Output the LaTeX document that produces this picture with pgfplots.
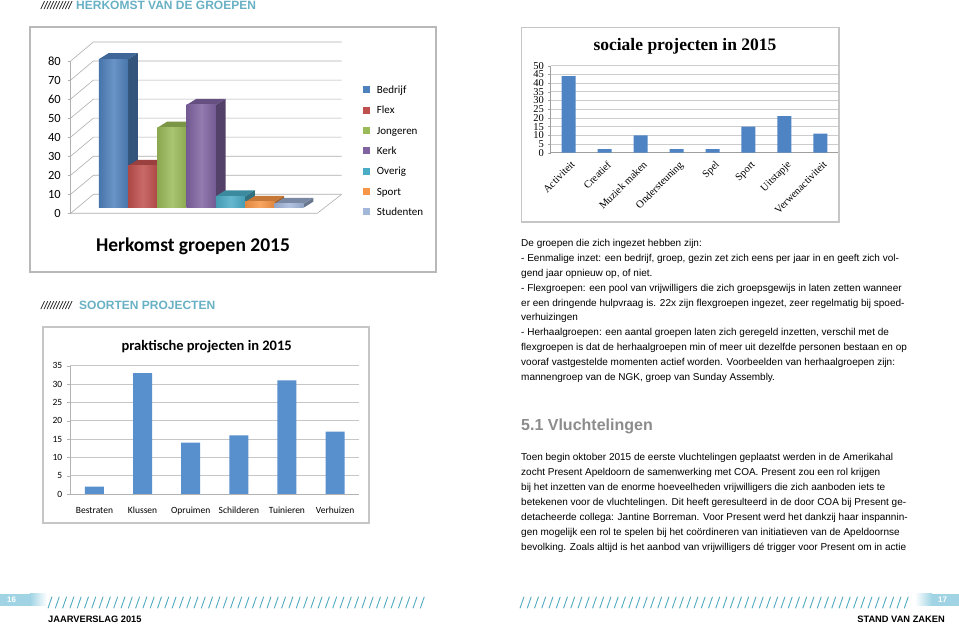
\documentclass[border=0pt]{standalone}
\usepackage{fontspec}
\setmainfont{Liberation Sans}
\newfontfamily\carlito{Carlito}
\newfontfamily\lserif{Liberation Serif}
\usepackage{pgfplots}
\pgfplotsset{compat=1.18}
\definecolor{teal1}{RGB}{104,177,196}
\definecolor{teal2}{RGB}{80,170,192}
\definecolor{boxblue}{RGB}{160,212,228}
\definecolor{headgray}{RGB}{140,140,140}
\definecolor{gridc}{RGB}{175,175,175}
\definecolor{c1}{RGB}{79,129,189}
\definecolor{c2}{RGB}{192,80,77}
\definecolor{c3}{RGB}{155,187,89}
\definecolor{c4}{RGB}{128,100,162}
\definecolor{c5}{RGB}{75,172,198}
\definecolor{c6}{RGB}{247,150,70}
\definecolor{c7}{RGB}{162,183,218}
\definecolor{barB}{RGB}{79,132,196}
\definecolor{barC}{RGB}{88,144,206}
\begin{document}
\begin{tikzpicture}[x=1pt,y=1pt]
\useasboundingbox (0,0) rectangle (959,626);
\fill[white] (0,0) rectangle (959,626);

% ---------- headings
\node[anchor=base west,inner sep=0,font=\itshape\fontsize{11}{11}\selectfont] at (41,616) {//////////};
\node[anchor=base west,inner sep=0,font=\bfseries\fontsize{12}{12}\selectfont,text=teal1] at (76,616) {HERKOMST VAN DE GROEPEN};
\node[anchor=base west,inner sep=0,font=\itshape\fontsize{11}{11}\selectfont] at (41,316) {//////////};
\node[anchor=base west,inner sep=0,font=\bfseries\fontsize{12}{12}\selectfont,text=teal1] at (79,316) {SOORTEN PROJECTEN};

% ---------- chart 1 frame and 3D walls
\draw[gray!55,line width=1.2pt,fill=white] (30,599) rectangle (436,354);
\foreach \v in {0,10,...,80} {
  \pgfmathsetmacro\yf{626-213.3+\v*1.904}
  \draw[gridc,line width=0.6pt] (70.7,\yf) -- (93.4,\yf+19) -- (341.7,\yf+19);
  \draw[gridc,line width=0.6pt] (67.5,\yf) -- (70.7,\yf);
  \node[anchor=east,inner sep=0,font=\carlito\fontsize{12.5}{12.5}\selectfont] at (61,\yf) {\v};
}
\draw[gridc,line width=0.6pt] (70.7,412.7) -- (70.7,565);
\draw[gridc,line width=0.6pt] (70.7,412.7) -- (317.3,412.7) -- (341.7,431.7);
\node[anchor=base,inner sep=0,font=\carlito\bfseries\fontsize{19.5}{19.5}\selectfont] at (193,374.3) {Herkomst groepen 2015};

\begin{axis}[at={(84.25pt,418.3pt)},anchor=south west,scale only axis,
  width=263.25pt,height=171.36pt,
  xmin=0,xmax=9,ymin=0,ymax=90,enlargelimits=false,hide axis,clip=false]
% Bedrijf 78
\addplot[fill=c1!65!black,draw=none] coordinates {(1.5,0) (1.83,3.15) (1.83,81.15) (1.5,78)} -- cycle;
\addplot[fill=c1!80!black,draw=none] coordinates {(0.5,78) (1.5,78) (1.83,81.15) (0.83,81.15)} -- cycle;
\addplot[ybar,bar width=1,bar shift=0pt,left color=c1!90!black,right color=c1!90!black,middle color=c1!85!white,draw=none] coordinates {(1,78)};
% Flex 22
\addplot[fill=c2!65!black,draw=none] coordinates {(2.5,0) (2.83,3.15) (2.83,25.15) (2.5,22)} -- cycle;
\addplot[fill=c2!80!black,draw=none] coordinates {(1.5,22) (2.5,22) (2.83,25.15) (1.83,25.15)} -- cycle;
\addplot[ybar,bar width=1,bar shift=0pt,left color=c2!90!black,right color=c2!90!black,middle color=c2!85!white,draw=none] coordinates {(2,22)};
% Jongeren 42
\addplot[fill=c3!65!black,draw=none] coordinates {(3.5,0) (3.83,3.15) (3.83,45.15) (3.5,42)} -- cycle;
\addplot[fill=c3!80!black,draw=none] coordinates {(2.5,42) (3.5,42) (3.83,45.15) (2.83,45.15)} -- cycle;
\addplot[ybar,bar width=1,bar shift=0pt,left color=c3!90!black,right color=c3!90!black,middle color=c3!85!white,draw=none] coordinates {(3,42)};
% Kerk 54
\addplot[fill=c4!65!black,draw=none] coordinates {(4.5,0) (4.83,3.15) (4.83,57.15) (4.5,54)} -- cycle;
\addplot[fill=c4!80!black,draw=none] coordinates {(3.5,54) (4.5,54) (4.83,57.15) (3.83,57.15)} -- cycle;
\addplot[ybar,bar width=1,bar shift=0pt,left color=c4!90!black,right color=c4!90!black,middle color=c4!85!white,draw=none] coordinates {(4,54)};
% Overig 6
\addplot[fill=c5!65!black,draw=none] coordinates {(5.5,0) (5.83,3.15) (5.83,9.15) (5.5,6)} -- cycle;
\addplot[fill=c5!80!black,draw=none] coordinates {(4.5,6) (5.5,6) (5.83,9.15) (4.83,9.15)} -- cycle;
\addplot[ybar,bar width=1,bar shift=0pt,left color=c5!90!black,right color=c5!90!black,middle color=c5!85!white,draw=none] coordinates {(5,6)};
% Sport 3
\addplot[fill=c6!65!black,draw=none] coordinates {(6.5,0) (6.83,3.15) (6.83,6.15) (6.5,3)} -- cycle;
\addplot[fill=c6!80!black,draw=none] coordinates {(5.5,3) (6.5,3) (6.83,6.15) (5.83,6.15)} -- cycle;
\addplot[ybar,bar width=1,bar shift=0pt,left color=c6!90!black,right color=c6!90!black,middle color=c6!85!white,draw=none] coordinates {(6,3)};
% Studenten 2
\addplot[fill=c7!65!black,draw=none] coordinates {(7.5,0) (7.83,3.15) (7.83,5.15) (7.5,2)} -- cycle;
\addplot[fill=c7!75!black,draw=none] coordinates {(6.5,2) (7.5,2) (7.83,5.15) (6.83,5.15)} -- cycle;
\addplot[ybar,bar width=1,bar shift=0pt,left color=c7!90!black,right color=c7!90!black,middle color=c7!85!white,draw=none] coordinates {(7,2)};
\end{axis}

% legend chart 1
\foreach \c/\t/\yy in {c1/Bedrijf/536,c2/Flex/515.7,c3/Jongeren/495.3,c4/Kerk/475,c5/Overig/454.7,c6/Sport/434.4,c7/Studenten/414} {
  \fill[\c] (363.3,\yy-3.5) rectangle (370.3,\yy+3.5);
  \node[anchor=base west,inner sep=0,font=\carlito\fontsize{11}{11}\selectfont] at (376.7,\yy-3.6) {\t};
}

% ---------- chart 2: sociale projecten
\draw[gray!45,line width=1.2pt,fill=white] (521.5,598.5) rectangle (839,404);
\node[anchor=base,inner sep=0,font=\lserif\bfseries\fontsize{17.5}{17.5}\selectfont] at (685,575) {sociale projecten in 2015};
\begin{axis}[at={(550.5pt,473.3pt)},anchor=south west,scale only axis,
  width=288pt,height=87pt,
  xmin=-0.5,xmax=7.5,ymin=0,ymax=50,enlargelimits=false,
  axis x line*=bottom,axis y line*=left,
  axis line style={gray!75,line width=0.6pt},
  ytick={0,5,...,50},ymajorgrids,major grid style={gray!40,line width=0.6pt},
  xtick={0,...,7},
  xticklabels={Activiteit,Creatief,Muziek maken,Ondersteuning,Spel,Sport,Uitstapje,Verwenactiviteit},
  x tick style={draw=none},y tick style={gray!75},
  tick align=outside,major tick length=2.5pt,
  extra x ticks={-0.5,0.5,...,7.5},extra x tick labels={},
  extra x tick style={grid=none,major tick length=2.5pt,tick style={gray!75,draw=gray!75}},
  /pgf/number format/assume math mode=true,
  yticklabel style={font=\lserif\fontsize{10.5}{10.5}\selectfont,inner sep=0pt,xshift=-4pt},
  xticklabel style={font=\lserif\fontsize{10.5}{10.5}\selectfont,inner sep=0pt,anchor=north east,xshift=2pt,yshift=-5pt,rotate=45},
  ybar,bar width=14pt]
\addplot[fill=barB,draw=none] coordinates {(0,44) (1,2) (2,10) (3,2) (4,2) (5,15) (6,21) (7,11)};
\end{axis}

% ---------- chart 3: praktische projecten
\draw[gray!45,line width=1.2pt,fill=white] (43,299) rectangle (369,103);
\node[anchor=base,inner sep=0,font=\carlito\bfseries\fontsize{14.5}{14.5}\selectfont] at (206.7,275.3) {praktische projecten in 2015};
\begin{axis}[at={(70.4pt,132pt)},anchor=south west,scale only axis,
  width=288.78pt,height=128.24pt,
  xmin=-0.5,xmax=5.5,ymin=0,ymax=35,enlargelimits=false,
  axis x line*=bottom,axis y line*=left,
  axis line style={gray!60,line width=0.6pt},
  ytick={0,5,...,35},ymajorgrids,major grid style={gray!45,line width=0.6pt},
  xtick={0,...,5},
  xticklabels={Bestraten,Klussen,Opruimen,Schilderen,Tuinieren,Verhuizen},
  x tick style={draw=none},y tick style={gray!60},
  tick align=outside,major tick length=3pt,
  extra x ticks={-0.5,0.5,...,5.5},extra x tick labels={},
  extra x tick style={grid=none,major tick length=3pt,tick style={gray!60,draw=gray!60}},
  /pgf/number format/assume math mode=true,
  yticklabel style={font=\carlito\fontsize{9.5}{9.5}\selectfont,inner sep=0pt,xshift=-5pt},
  xticklabel style={font=\carlito\fontsize{9.5}{9.5}\selectfont,inner sep=0pt,anchor=base,yshift=-17pt},
  ybar,bar width=19pt]
\addplot[fill=barC,draw=none] coordinates {(0,2) (1,33) (2,14) (3,16) (4,31) (5,17)};
\end{axis}

% ---------- body text right column
\begin{scope}[every node/.style={anchor=base west,inner sep=0,font=\fontsize{10}{12}\selectfont}]
\node at (521,379.3) {De groepen die zich ingezet hebben zijn:};
\node at (521,364.45) {- Eenmalige inzet: een bedrijf, groep, gezin zet zich eens per jaar in en geeft zich vol-};
\node at (521,349.6) {gend jaar opnieuw op, of niet.};
\node at (521,334.75) {- Flexgroepen: een pool van vrijwilligers die zich groepsgewijs in laten zetten wanneer};
\node at (521,319.9) {er een dringende hulpvraag is. 22x zijn flexgroepen ingezet, zeer regelmatig bij spoed-};
\node at (521,305.05) {verhuizingen};
\node at (521,290.2) {- Herhaalgroepen: een aantal groepen laten zich geregeld inzetten, verschil met de};
\node at (521,275.35) {flexgroepen is dat de herhaalgroepen min of meer uit dezelfde personen bestaan en op};
\node at (521,260.5) {vooraf vastgestelde momenten actief worden. Voorbeelden van herhaalgroepen zijn:};
\node at (521,245.65) {mannengroep van de NGK, groep van Sunday Assembly.};
\node at (521,165.5) {Toen begin oktober 2015 de eerste vluchtelingen geplaatst werden in de Amerikahal};
\node at (521,150.5) {zocht Present Apeldoorn de samenwerking met COA. Present zou een rol krijgen};
\node at (521,135.5) {bij het inzetten van de enorme hoeveelheden vrijwilligers die zich aanboden iets te};
\node at (521,120.5) {betekenen voor de vluchtelingen. Dit heeft geresulteerd in de door COA bij Present ge-};
\node at (521,105.5) {detacheerde collega: Jantine Borreman. Voor Present werd het dankzij haar inspannin-};
\node at (521,90.5) {gen mogelijk een rol te spelen bij het coördineren van initiatieven van de Apeldoornse};
\node at (521,75.5) {bevolking. Zoals altijd is het aanbod van vrijwilligers dé trigger voor Present om in actie};
\end{scope}
\node[anchor=base west,inner sep=0,font=\bfseries\fontsize{16}{16}\selectfont,text=headgray] at (521,195.3) {5.1 Vluchtelingen};

% ---------- footer
\fill[boxblue] (0,20) rectangle (30,32);
\shade[left color=boxblue,right color=white] (30,20) rectangle (47,32);
\node[anchor=base west,inner sep=0,font=\bfseries\fontsize{8}{8}\selectfont,text=white] at (7,23) {16};
\shade[left color=white,right color=boxblue] (915,20) rectangle (932,32);
\fill[boxblue] (932,20) rectangle (959,32);
\node[anchor=base,inner sep=0,font=\bfseries\fontsize{8}{8}\selectfont,text=white] at (942.5,23) {17};
\foreach \i in {0,...,51} {\draw[teal2,line width=0.9pt] ({48+\i*7.3},17.7) -- ({52+\i*7.3},29.3);}
\foreach \i in {0,...,53} {\draw[teal2,line width=0.9pt] ({520+\i*7.25},17.7) -- ({524+\i*7.25},29.3);}
\node[anchor=base west,inner sep=0,font=\bfseries\fontsize{9.3}{9.3}\selectfont] at (48,3) {JAARVERSLAG 2015};
\node[anchor=base east,inner sep=0,font=\bfseries\fontsize{9.3}{9.3}\selectfont] at (945,3) {STAND VAN ZAKEN};
\end{tikzpicture}
\end{document}
